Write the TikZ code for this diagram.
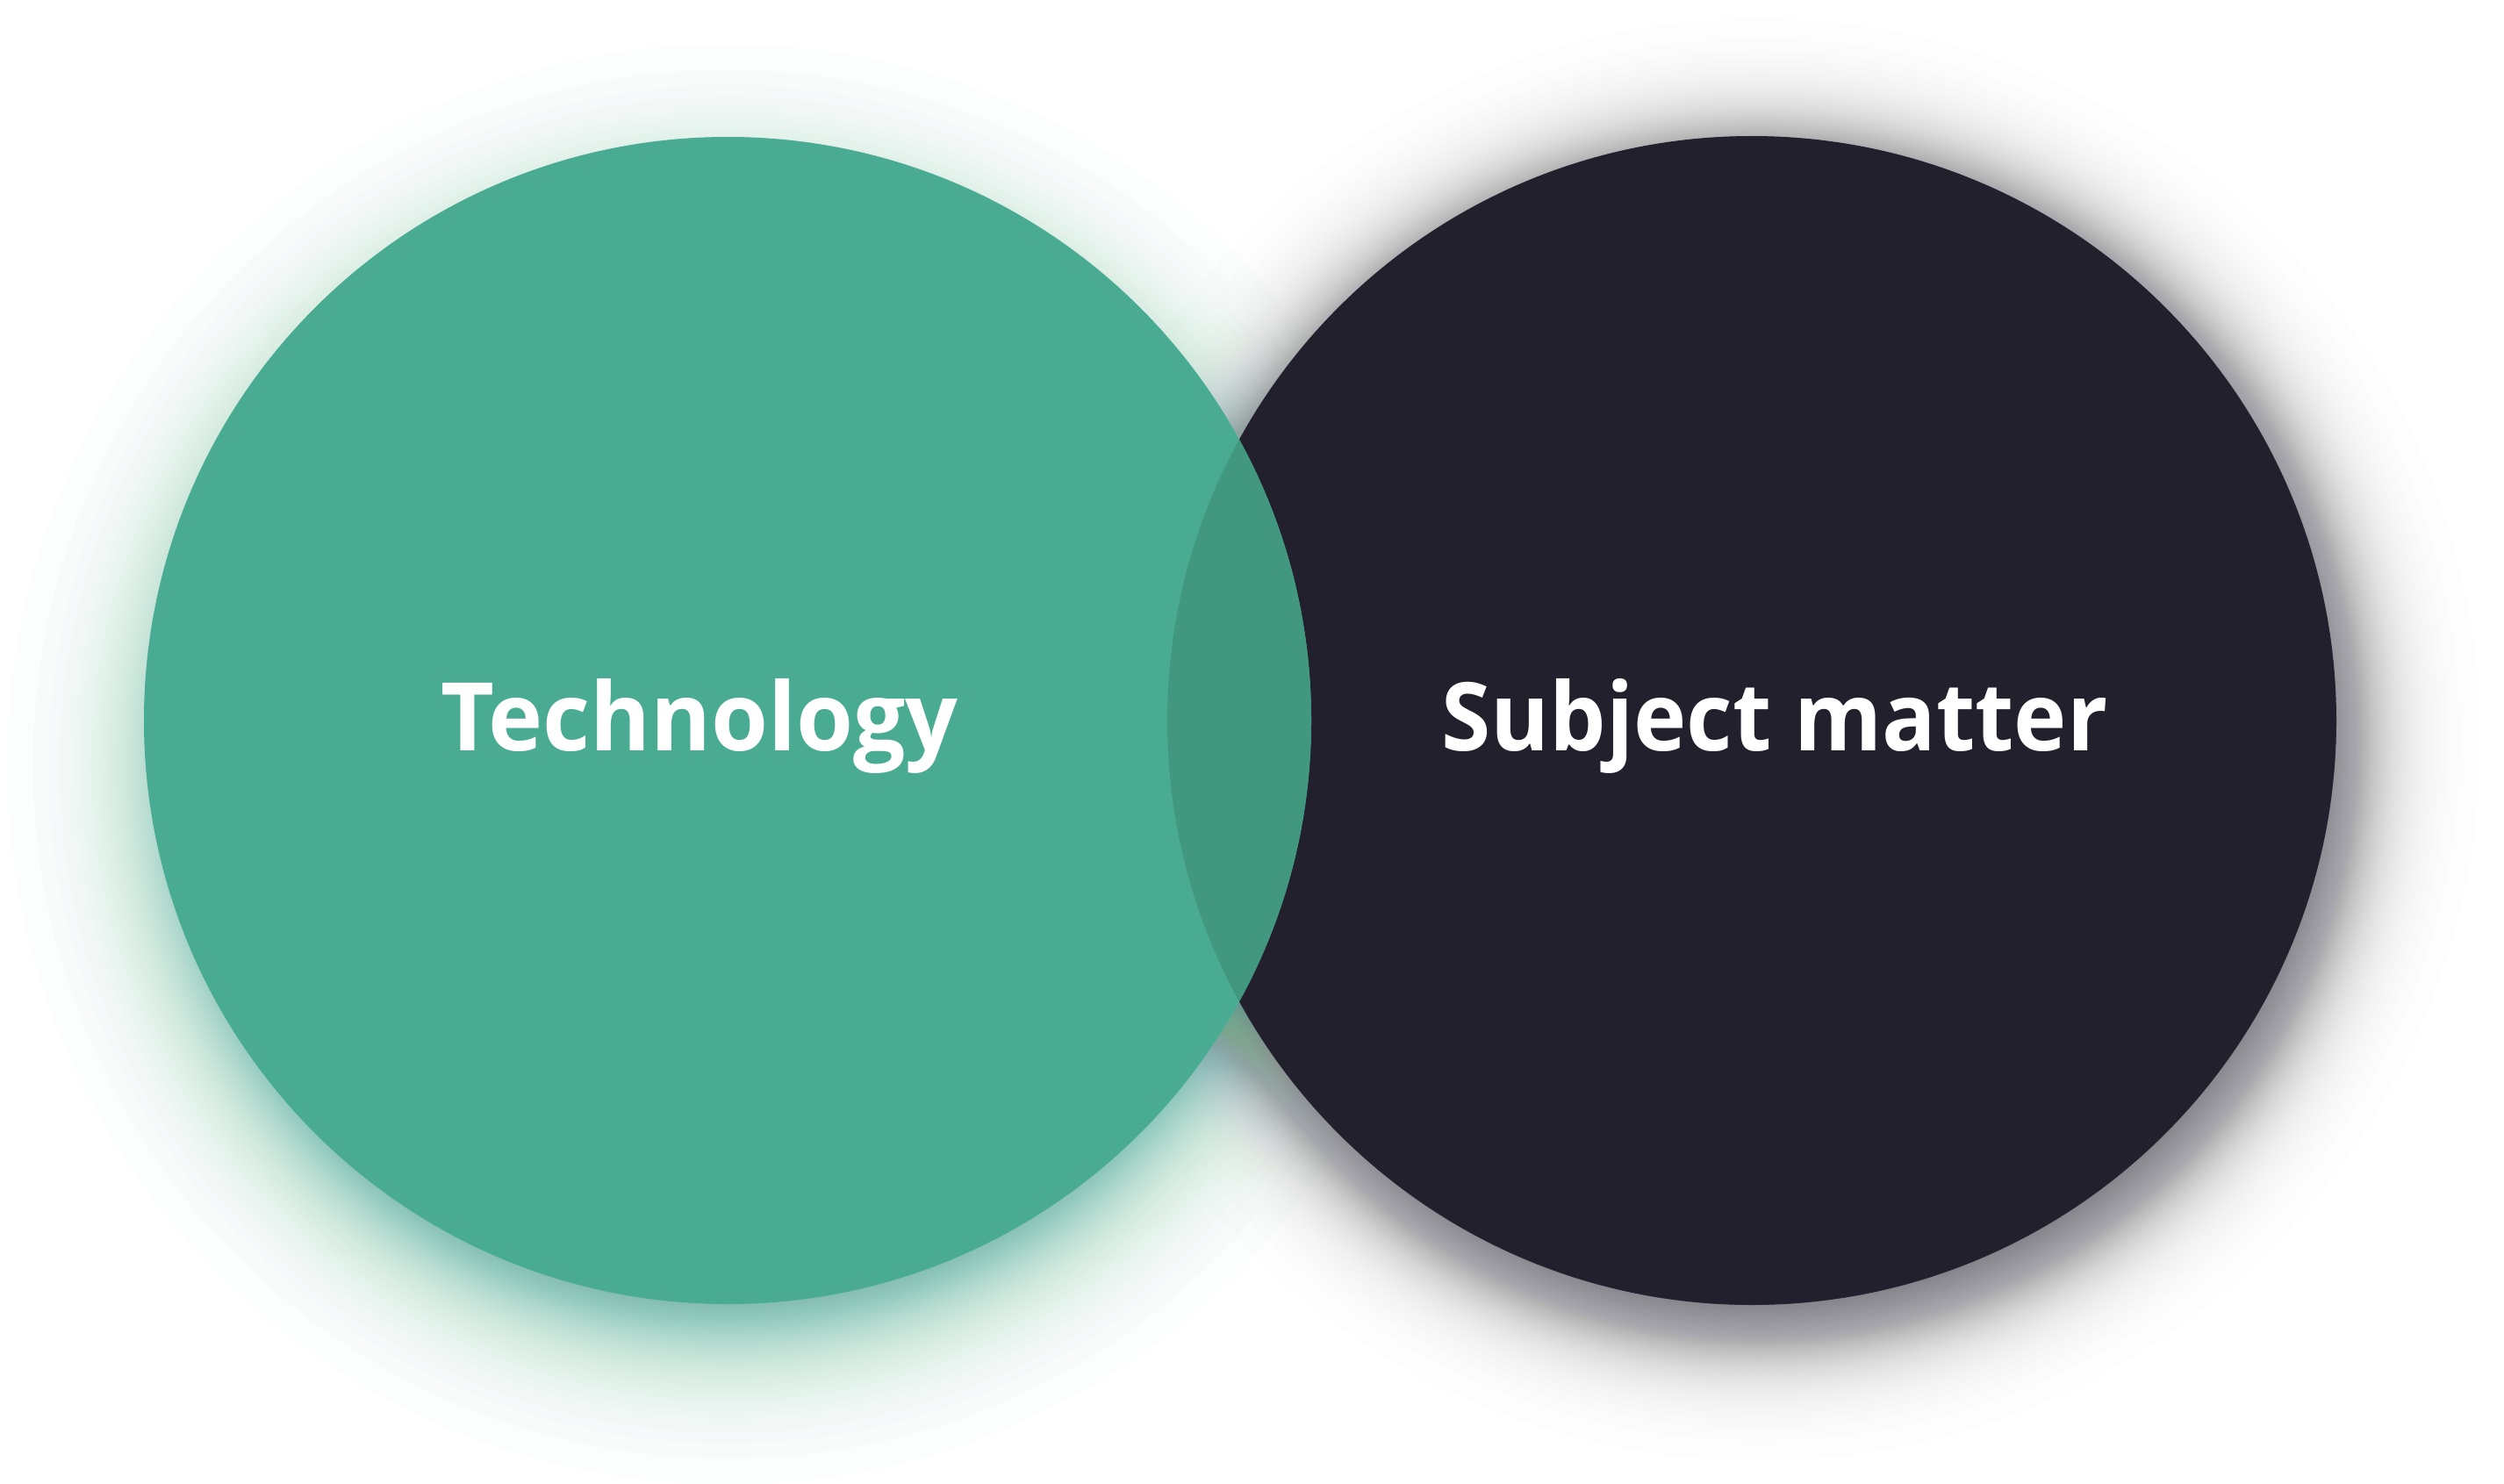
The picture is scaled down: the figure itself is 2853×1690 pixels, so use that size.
\documentclass[tikz,border=0pt]{standalone}
\usepackage{fontspec}
\setmainfont{Open Sans}
\usetikzlibrary{calc}
\definecolor{techgreen}{HTML}{4AAB93}
\definecolor{techgreenrim}{HTML}{52AF99}
\definecolor{lensgreen}{HTML}{42977F}
\definecolor{inkcore}{HTML}{22202C}
\definecolor{inkrim}{HTML}{2C2A37}
\definecolor{glowgreen}{HTML}{3DA48E}
\definecolor{shadowink}{HTML}{2A2936}
\definecolor{castshade}{HTML}{0E1820}
\pgfdeclareradialshading{greenfill}{\pgfpoint{0bp}{0bp}}{color(0bp)=(techgreen); color(36bp)=(techgreen); color(50bp)=(techgreenrim)}
\pgfdeclareradialshading{inkfill}{\pgfpoint{0bp}{0bp}}{color(0bp)=(inkcore); color(38bp)=(inkcore); color(50bp)=(inkrim)}
\tikzset{
  label text/.style={text=white, font=\bfseries\fontsize{108}{108}\selectfont, anchor=base, inner sep=0pt},
}
% soft halo with a logistic fall-off:
% #1 centre, #2 radius of the half-strength ring, #3 spread, #4 colour, #5 per-layer opacity
\newcommand\softhalo[5]{%
  \foreach \j in {1,...,119}{
    \fill[#4, opacity=#5] #1 circle[radius={#2+#3*ln(120/\j-1)}];
  }%
}
\begin{document}
\begin{tikzpicture}[x=1pt,y=-1pt]
\useasboundingbox (0,0) rectangle (2853,1690);
\fill[white] (0,0) rectangle (2853,1690);

% circle centres
\coordinate (tc) at (829,821);
\coordinate (sc) at (1996,821);

% soft shadow of the dark circle
\softhalo{($(sc)+(8,22)$)}{664pt}{33pt}{shadowink}{0.0095}
% teal glow of the green circle
\softhalo{($(tc)+(0,50)$)}{620pt}{42pt}{glowgreen}{0.0112}

% dark circle
\fill[inkrim] (sc) circle[radius=666pt];
\shade[shading=inkfill] (sc) circle[radius=665.5pt];
% shade cast by the green circle onto the dark one
\begin{scope}
  \clip (sc) circle[radius=666pt];
  \softhalo{(tc)}{672pt}{28pt}{castshade}{0.0016}
\end{scope}

% green circle
\fill[techgreenrim] (tc) circle[radius=665pt];
\shade[shading=greenfill] (tc) circle[radius=664.5pt];
% overlap lens
\begin{scope}
  \clip (sc) circle[radius=666pt];
  \fill[lensgreen] (tc) circle[radius=665pt];
\end{scope}

\node[label text, xscale=0.973] (tech) at (797,855) {Technology};
\node[label text, xscale=0.944] (subj) at (2022,855) {Subject matter};
\end{tikzpicture}
\end{document}
